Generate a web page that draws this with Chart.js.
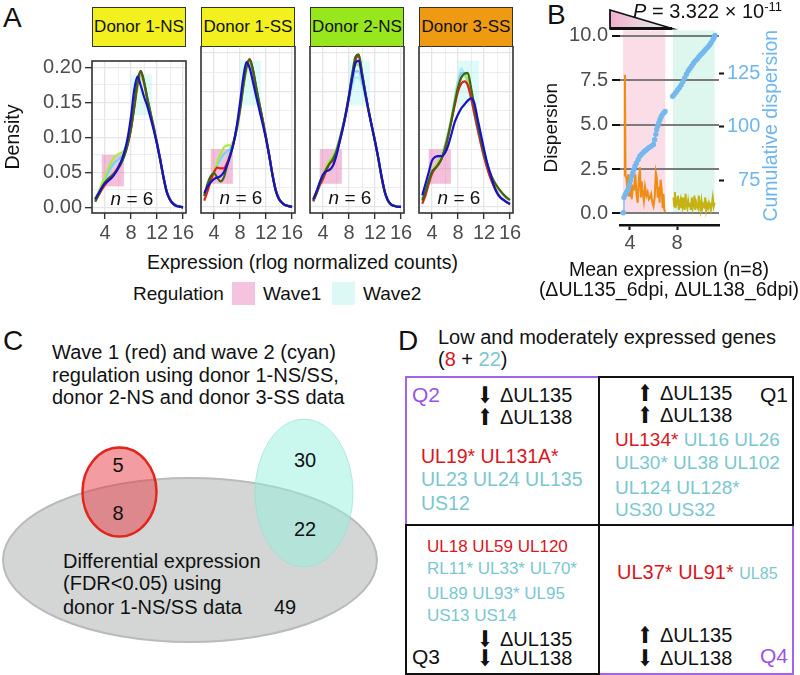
<!DOCTYPE html>
<html>
<head>
<meta charset="utf-8">
<title>Wave 1 / wave 2 regulation</title>
<script src="https://cdn.jsdelivr.net/npm/chart.js"></script>
<style>
  body { margin: 0; background: #fff; }
  #fig { position: relative; width: 800px; height: 675px; overflow: hidden;
         font-family: "Liberation Sans", Arial, sans-serif; color: #111; }
  #fig canvas, #fig svg { position: absolute; }
  .t { position: absolute; white-space: nowrap; line-height: 1; }
  .lab { font-size: 28px; }
  .strip { position: absolute; top: 7px; height: 40px; box-sizing: border-box;
           border: 1.6px solid #333; font-size: 17px; line-height: 37px; text-align: center; }
  .sw { position: absolute; width: 23px; height: 23px; }
  .box { position: absolute; box-sizing: border-box; border: 2.5px solid #111; }
  .box.pur { border-color: #A263E8; }
  .r { color: #D9161D; }
  .c { color: #7AC7D1; }
  .q { color: #9C52E2; }
  .ar { position: absolute; width: 20px; text-align: center; line-height: 1;
        font-family: "DejaVu Sans", sans-serif; font-size: 23px; transform: scaleX(0.78); }
</style>
</head>
<body>
<div id="fig">
  <!-- A -->
  <div class="t lab" style="left:3px;top:4px">A</div>
  <div id="strips"></div>
  <canvas id="a0" width="200" height="200" style="left:0;top:46px"></canvas>
  <canvas id="a1" width="118" height="200" style="left:191px;top:46px"></canvas>
  <canvas id="a2" width="118" height="200" style="left:300px;top:46px"></canvas>
  <canvas id="a3" width="118" height="200" style="left:409px;top:46px"></canvas>
  <div class="t" style="left:92px;width:421px;text-align:center;top:253px;font-size:19.5px">Expression (rlog normalized counts)</div>
  <div class="t" style="left:133px;top:283.5px;font-size:19px">Regulation</div>
  <div class="sw" style="left:232px;top:282px;background:#F4C3DD"></div>
  <div class="t" style="left:263px;top:283.5px;font-size:19px">Wave1</div>
  <div class="sw" style="left:332px;top:282px;background:#DCF9F6"></div>
  <div class="t" style="left:363px;top:283.5px;font-size:19px">Wave2</div>

  <!-- B -->
  <div class="t lab" style="left:547px;top:1px">B</div>
  <canvas id="chartB" width="270" height="300" style="left:530px;top:0"></canvas>
  <div class="t" style="left:633px;top:0;font-size:20px"><i>P</i> = 3.322 × 10<sup style="font-size:13px;vertical-align:7px">-11</sup></div>
  <div class="t" style="left:538px;width:262px;text-align:center;top:260px;font-size:19.5px;line-height:19.5px">Mean expression (n=8)<br>(ΔUL135_6dpi, ΔUL138_6dpi)</div>

  <!-- C -->
  <div class="t lab" style="left:3px;top:327px">C</div>
  <div class="t" style="left:52px;top:341px;font-size:20px;line-height:22.5px">Wave 1 (red) and wave 2 (cyan)<br>regulation using donor 1-NS/SS,<br>donor 2-NS and donor 3-SS data</div>
  <svg width="400" height="275" viewBox="0 400 400 275" style="left:0;top:400px">
    <ellipse cx="190" cy="560" rx="187" ry="82" fill="#D3D6D5" stroke="#B8BBBA" stroke-width="2"/>
    <ellipse cx="119.5" cy="492" rx="37" ry="44.5" fill="rgba(232,58,70,0.5)" stroke="#E2261C" stroke-width="2.5"/>
    <ellipse cx="304" cy="493" rx="49" ry="74" fill="rgba(150,240,222,0.5)" stroke="rgba(140,225,210,0.6)" stroke-width="1"/>
    <g font-family='"Liberation Sans", Arial, sans-serif' font-size="20" fill="#111">
      <g text-anchor="middle" dominant-baseline="central" id="vennNums"></g>
      <text x="63" y="561" dominant-baseline="central">Differential expression</text>
      <text x="63" y="583" dominant-baseline="central">(FDR&lt;0.05) using</text>
      <text x="63" y="607" dominant-baseline="central">donor 1-NS/SS data</text>
    </g>
  </svg>

  <!-- D -->
  <div class="t lab" style="left:398px;top:327px">D</div>
  <div class="t" style="left:438px;top:327px;font-size:20px">Low and moderately expressed genes</div>
  <div class="t" style="left:438px;top:349px;font-size:20px">(<span class="r">8</span> + <span class="c">22</span>)</div>
  <div class="box pur" style="left:405px;top:376px;width:195px;height:150px"></div>
  <div class="box pur" style="left:598px;top:524px;width:196px;height:151px"></div>
  <div class="box" style="left:598px;top:376px;width:196px;height:150px"></div>
  <div class="box" style="left:405px;top:524px;width:195px;height:151px"></div>

  <div class="t q" style="left:412px;top:384px;font-size:21px">Q2</div>
  <div class="ar" style="left:475px;top:384px">⬇</div>
  <div class="t" style="left:500px;top:385px;font-size:20px">ΔUL135</div>
  <div class="ar" style="left:475px;top:406px">⬆</div>
  <div class="t" style="left:500px;top:407px;font-size:20px">ΔUL138</div>
  <div class="t r" style="left:421px;top:447px;font-size:19.5px">UL19* UL131A*</div>
  <div class="t c" style="left:421px;top:470px;font-size:19.5px">UL23 UL24 UL135</div>
  <div class="t c" style="left:421px;top:494px;font-size:19.5px">US12</div>

  <div class="ar" style="left:635px;top:382px">⬆</div>
  <div class="t" style="left:660px;top:383px;font-size:20px">ΔUL135</div>
  <div class="t" style="left:760px;top:384px;font-size:21px">Q1</div>
  <div class="ar" style="left:635px;top:404px">⬆</div>
  <div class="t" style="left:660px;top:405px;font-size:20px">ΔUL138</div>
  <div class="t" style="left:615px;top:430px;font-size:19px"><span class="r">UL134*</span> <span class="c">UL16 UL26</span></div>
  <div class="t c" style="left:615px;top:453px;font-size:19px">UL30* UL38 UL102</div>
  <div class="t c" style="left:615px;top:478px;font-size:19px">UL124 UL128*</div>
  <div class="t c" style="left:615px;top:500px;font-size:19px">US30 US32</div>

  <div class="t r" style="left:427px;top:537.5px;font-size:17px">UL18 UL59 UL120</div>
  <div class="t c" style="left:427px;top:559.5px;font-size:17px">RL11* UL33* UL70*</div>
  <div class="t c" style="left:427px;top:584.5px;font-size:17px">UL89 UL93* UL95</div>
  <div class="t c" style="left:427px;top:606.5px;font-size:17px">US13 US14</div>
  <div class="ar" style="left:475px;top:628px">⬇</div>
  <div class="t" style="left:500px;top:629px;font-size:20px">ΔUL135</div>
  <div class="ar" style="left:475px;top:647px">⬇</div>
  <div class="t" style="left:500px;top:648px;font-size:20px">ΔUL138</div>
  <div class="t" style="left:412px;top:645.5px;font-size:21px">Q3</div>

  <div class="t" style="left:617px;top:562px;font-size:20px"><span class="r">UL37* UL91*</span> <span class="c" style="font-size:16px">UL85</span></div>
  <div class="ar" style="left:635px;top:624px">⬆</div>
  <div class="t" style="left:660px;top:625px;font-size:20px">ΔUL135</div>
  <div class="ar" style="left:635px;top:647px">⬇</div>
  <div class="t" style="left:660px;top:648px;font-size:20px">ΔUL138</div>
  <div class="t q" style="left:760px;top:645px;font-size:21px">Q4</div>
</div>

<script>
// ---------- Panel A: density of rlog counts, six samples per donor ----------
const exprGrid = [2.5, 3, 3.5, 4, 4.5, 5, 5.5, 6, 6.5, 7, 7.5, 8, 8.5, 9, 9.5, 10,
                  10.5, 11, 11.5, 12, 12.5, 13, 13.5, 14, 14.5, 15, 15.5, 16];
const exprTicks = [2, 4, 6, 8, 10, 12, 14, 16];
const exprTickLabels = ['', '4', '', '8', '', '12', '', '16'];
const densTicks = [0, 0.025, 0.05, 0.075, 0.1, 0.125, 0.15, 0.175, 0.2];
const densTickLabels = ['0.00', '', '0.05', '', '0.10', '', '0.15', '', '0.20'];
const donors = ['Donor 1-NS', 'Donor 1-SS', 'Donor 2-NS', 'Donor 3-SS'];
const nSamples = [6, 6, 6, 6];
const wave1Box = [3.5, 6.9, 0.03, 0.075];   // x from, x to, density from, density to
const wave2Box = [8.0, 11.2, 0.132, 0.19];

// sample order: blue, dark green, red, light green, sky blue, pale turquoise
const d1nsBlue  = [0.012,0.020,0.028,0.034,0.038,0.042,0.048,0.056,0.066,0.080,0.100,0.130,0.168,0.187,0.174,0.158,0.145,0.128,0.110,0.090,0.068,0.043,0.022,0.011,0.005,0.002,0.001,0.000];
const d1nsDkGrn = [0.008,0.018,0.028,0.036,0.041,0.045,0.049,0.055,0.063,0.074,0.090,0.113,0.145,0.180,0.195,0.180,0.156,0.134,0.113,0.091,0.067,0.042,0.022,0.011,0.005,0.002,0.001,0.000];
const d1nsRed   = [0.010,0.017,0.025,0.032,0.038,0.044,0.050,0.057,0.065,0.075,0.090,0.112,0.142,0.176,0.194,0.178,0.155,0.134,0.114,0.092,0.068,0.043,0.022,0.011,0.005,0.002,0.001,0.000];
const d1nsLtGrn = [0.012,0.022,0.033,0.044,0.055,0.065,0.072,0.076,0.078,0.082,0.094,0.114,0.142,0.170,0.186,0.176,0.155,0.134,0.113,0.091,0.067,0.042,0.022,0.011,0.005,0.002,0.001,0.000];
const d1nsSky   = [0.012,0.021,0.031,0.040,0.050,0.058,0.064,0.068,0.072,0.079,0.094,0.116,0.146,0.176,0.190,0.178,0.157,0.136,0.115,0.093,0.069,0.044,0.023,0.012,0.006,0.003,0.001,0.000];
const d1nsCyan  = [0.011,0.020,0.030,0.039,0.048,0.055,0.061,0.066,0.071,0.079,0.094,0.116,0.146,0.176,0.188,0.178,0.158,0.137,0.116,0.094,0.070,0.045,0.024,0.012,0.006,0.003,0.001,0.000];

const d1ssBlue  = [0.018,0.026,0.032,0.036,0.038,0.040,0.045,0.054,0.066,0.082,0.105,0.135,0.168,0.188,0.180,0.162,0.143,0.125,0.107,0.088,0.066,0.041,0.021,0.010,0.005,0.002,0.001,0.000];
const d1ssDkGrn = [0.014,0.030,0.040,0.044,0.038,0.033,0.038,0.053,0.068,0.083,0.102,0.127,0.157,0.182,0.191,0.178,0.155,0.133,0.112,0.090,0.066,0.041,0.021,0.010,0.005,0.002,0.001,0.000];
const d1ssRed   = [0.008,0.020,0.034,0.045,0.051,0.050,0.050,0.057,0.068,0.083,0.103,0.128,0.158,0.183,0.192,0.177,0.153,0.132,0.112,0.090,0.067,0.042,0.022,0.011,0.005,0.002,0.001,0.000];
const d1ssLtGrn = [0.015,0.025,0.035,0.046,0.058,0.069,0.077,0.080,0.080,0.086,0.100,0.124,0.154,0.178,0.188,0.176,0.154,0.133,0.112,0.090,0.066,0.041,0.021,0.010,0.005,0.002,0.001,0.000];
const d1ssSky   = [0.016,0.026,0.036,0.045,0.054,0.062,0.068,0.072,0.076,0.084,0.100,0.125,0.156,0.180,0.187,0.176,0.155,0.134,0.113,0.091,0.067,0.042,0.022,0.011,0.005,0.002,0.001,0.000];
const d1ssCyan  = [0.015,0.025,0.035,0.044,0.052,0.060,0.066,0.071,0.075,0.083,0.099,0.124,0.155,0.178,0.184,0.175,0.155,0.134,0.113,0.091,0.068,0.043,0.022,0.011,0.005,0.002,0.001,0.000];

const d2nsBlue  = [0.010,0.020,0.032,0.042,0.046,0.048,0.053,0.065,0.082,0.100,0.120,0.143,0.168,0.187,0.190,0.170,0.147,0.125,0.105,0.085,0.064,0.040,0.020,0.008,0.003,0.001,0.000,0.000];
const d2nsDkGrn = [0.008,0.018,0.030,0.040,0.049,0.056,0.062,0.071,0.085,0.102,0.122,0.146,0.173,0.195,0.198,0.174,0.149,0.126,0.105,0.085,0.063,0.039,0.019,0.008,0.003,0.001,0.000,0.000];
const d2nsRed   = [0.007,0.017,0.028,0.036,0.047,0.056,0.060,0.068,0.083,0.100,0.120,0.143,0.170,0.191,0.196,0.174,0.149,0.126,0.105,0.085,0.063,0.039,0.019,0.008,0.003,0.001,0.000,0.000];
const d2nsLtGrn = [0.009,0.019,0.031,0.042,0.052,0.060,0.066,0.073,0.086,0.102,0.121,0.144,0.168,0.184,0.185,0.168,0.146,0.125,0.105,0.085,0.063,0.039,0.019,0.008,0.003,0.001,0.000,0.000];
const d2nsSky   = [0.009,0.019,0.030,0.041,0.051,0.059,0.066,0.074,0.087,0.103,0.121,0.142,0.163,0.176,0.176,0.163,0.145,0.125,0.105,0.086,0.064,0.040,0.020,0.009,0.003,0.001,0.000,0.000];
const d2nsCyan  = [0.009,0.019,0.030,0.041,0.051,0.059,0.066,0.074,0.087,0.103,0.120,0.139,0.157,0.168,0.168,0.158,0.142,0.124,0.105,0.086,0.064,0.040,0.020,0.009,0.003,0.001,0.000,0.000];

const d3ssBlue  = [0.015,0.030,0.045,0.060,0.065,0.066,0.066,0.070,0.080,0.095,0.110,0.120,0.128,0.133,0.138,0.141,0.135,0.115,0.095,0.075,0.057,0.042,0.028,0.018,0.012,0.009,0.006,0.004];
const d3ssDkGrn = [0.008,0.020,0.034,0.046,0.050,0.055,0.063,0.076,0.093,0.113,0.135,0.155,0.168,0.173,0.174,0.155,0.131,0.108,0.088,0.070,0.055,0.043,0.034,0.027,0.021,0.016,0.012,0.009];
const d3ssRed   = [0.004,0.015,0.030,0.043,0.050,0.056,0.063,0.075,0.092,0.112,0.132,0.150,0.160,0.163,0.158,0.142,0.122,0.102,0.083,0.065,0.050,0.037,0.027,0.019,0.013,0.009,0.006,0.003];
const d3ssLtGrn = [0.010,0.022,0.035,0.046,0.053,0.059,0.066,0.078,0.095,0.115,0.137,0.157,0.168,0.171,0.166,0.148,0.126,0.105,0.086,0.068,0.053,0.041,0.032,0.026,0.021,0.016,0.012,0.009];
const d3ssSky   = [0.011,0.021,0.032,0.043,0.052,0.060,0.068,0.080,0.096,0.115,0.138,0.160,0.174,0.174,0.163,0.142,0.121,0.101,0.083,0.066,0.052,0.040,0.031,0.025,0.020,0.015,0.011,0.008];
const d3ssCyan  = [0.010,0.020,0.031,0.042,0.052,0.060,0.068,0.080,0.097,0.117,0.141,0.166,0.180,0.172,0.160,0.140,0.120,0.100,0.082,0.065,0.051,0.039,0.031,0.025,0.020,0.015,0.011,0.008];

// ---------- Panel B: dispersion vs mean expression ----------
const wave1Span = [3.4, 7.0];
const wave2Span = [7.66, 11.2];
const wave1X    = [3.55,3.57,3.62,3.70,3.78,3.85,3.92,4.00,4.08,4.15,4.25,4.35,4.45,4.55,4.65,4.75,4.85,4.92,5.00,5.08,5.18,5.28,5.40,5.50,5.60,5.70,5.80,5.90,6.00,6.10,6.20,6.28,6.35,6.45,6.52,6.60,6.70,6.78,6.85,6.92,7.00];
const wave1Disp = [2.1,7.8,2.1,2.0,1.3,2.2,1.0,1.6,1.9,0.8,1.5,1.4,2.2,1.1,0.6,1.9,2.6,0.9,1.8,1.2,0.7,1.5,1.0,1.2,0.8,0.9,1.1,0.6,0.4,0.9,2.3,2.0,0.9,1.5,0.6,1.9,1.3,0.3,1.1,0.2,0.1];
const wave2X    = [7.70,7.76,7.82,7.88,7.95,8.02,8.08,8.15,8.22,8.30,8.36,8.43,8.50,8.58,8.65,8.72,8.80,8.88,8.95,9.02,9.10,9.18,9.25,9.33,9.40,9.48,9.55,9.63,9.70,9.78,9.85,9.93,10.00,10.08,10.16,10.24,10.32,10.40,10.48,10.56,10.64,10.72,10.80,10.88,10.96,11.04,11.12,11.20];
const wave2Disp = [0.9,0.4,1.2,0.3,0.7,0.5,1.0,0.2,0.6,0.8,0.3,0.9,0.4,0.6,0.2,1.1,0.5,0.3,0.7,0.4,0.6,0.2,0.9,0.3,0.5,1.0,0.2,0.6,0.4,0.3,1.0,0.5,0.2,0.7,0.3,0.5,0.4,0.9,0.2,0.5,0.3,0.6,0.4,0.2,0.5,0.9,0.4,0.6];
const cumWave1X   = [3.43,3.49,3.60,3.70,3.78,3.86,3.95,4.05,4.14,4.24,4.33,4.43,4.55,4.70,4.85,5.00,5.15,5.30,5.42,5.60,5.80,5.99,6.10,6.20,6.27,6.35,6.45,6.55,6.65,6.75,6.88,6.98];
const cumWave1Val = [60,67.1,68.5,69.5,70.3,71,73,75,77,78.6,80.2,81.8,83.2,84.8,86.4,87.3,88.2,88.9,89.5,90.3,91,91.8,94,96.5,98.8,100.3,101.8,103.4,104.7,105.7,106.6,107.2];
const cumWave2X   = [7.63,7.75,7.90,8.05,8.20,8.35,8.50,8.65,8.80,8.95,9.10,9.25,9.40,9.55,9.70,9.85,10.00,10.15,10.30,10.45,10.60,10.75,10.90,11.05,11.15,11.23];
const cumWave2Val = [114.2,115,116,117.2,118.2,119.5,121,122.8,124.5,126,127.2,128.3,129.6,130.6,131.5,132.5,133.5,134.3,135.2,136.2,137,138,139.2,140.6,141.6,142.5];
const meanTicks = [4, 8];
const dispTicks = [0, 2.5, 5, 7.5, 10];
const dispTickLabels = ['0.0', '2.5', '5.0', '7.5', '10.0'];
const cumTicks = [75, 100, 125];
const cumTickLabels = ['  75', '100', '125'];   // leading spaces right-align the two-digit label

// ---------- Panel C: Venn counts ----------
const vennCounts = [5, 8, 30, 22, 49];

const FONT = '"Liberation Sans", Arial, sans-serif';
Chart.defaults.font.family = FONT;
Chart.defaults.color = '#4D4D4D';

const sampleColors = ['#1414C4', '#3E6414', '#E4201C', '#A8EC40', '#88C8F6', '#A9EEF0'];
const stripColors = ['#F2F01E', '#F2F01E', '#97E61E', '#EE9A12'];
const panelLeft = [92, 201, 310, 419];
const cumColor = '#74B8EE';

// strips
const stripHost = document.getElementById('strips');
donors.forEach((d, k) => {
  const s = document.createElement('div');
  s.className = 'strip';
  s.style.left = panelLeft[k] + 'px';
  s.style.width = '94px';
  s.style.background = stripColors[k];
  s.textContent = d;
  stripHost.appendChild(s);
});

// venn numbers
const vennPos = [[118, 465], [118, 513], [305, 460], [305, 529], [285, 607]];
const vg = document.getElementById('vennNums');
vennCounts.forEach((n, i) => {
  const t = document.createElementNS('http://www.w3.org/2000/svg', 'text');
  t.setAttribute('x', vennPos[i][0]);
  t.setAttribute('y', vennPos[i][1]);
  t.textContent = n;
  vg.appendChild(t);
});

// wave boxes, n label and panel border for each facet
const facetDecor = {
  id: 'facetDecor',
  beforeDatasetsDraw(chart) {
    const { ctx, chartArea: a, scales: { x, y } } = chart;
    ctx.save();
    ctx.beginPath();
    ctx.rect(a.left, a.top, a.right - a.left, a.bottom - a.top);
    ctx.clip();
    [[wave1Box, 'rgba(230,112,172,0.45)'], [wave2Box, 'rgba(160,240,238,0.35)']].forEach(([b, col]) => {
      const x0 = x.getPixelForValue(b[0]), x1 = x.getPixelForValue(b[1]);
      const y0 = y.getPixelForValue(b[3]), y1 = y.getPixelForValue(b[2]);
      ctx.fillStyle = col;
      ctx.fillRect(x0, y0, x1 - x0, y1 - y0);
    });
    ctx.restore();
  },
  afterDatasetsDraw(chart, args, opts) {
    const { ctx, chartArea: a, scales: { x, y } } = chart;
    const cx = x.getPixelForValue(8.15), cy = y.getPixelForValue(0.0104);
    ctx.save();
    ctx.fillStyle = '#111';
    ctx.textBaseline = 'middle';
    ctx.textAlign = 'left';
    ctx.font = 'italic 19px ' + FONT;
    const w1 = ctx.measureText('n').width;
    ctx.font = '19px ' + FONT;
    const rest = ' = ' + opts.n;
    const w2 = ctx.measureText(rest).width;
    const sx = cx - (w1 + w2) / 2;
    ctx.font = 'italic 19px ' + FONT;
    ctx.fillText('n', sx, cy);
    ctx.font = '19px ' + FONT;
    ctx.fillText(rest, sx + w1, cy);
    ctx.strokeStyle = '#333';
    ctx.lineWidth = 1.6;
    ctx.strokeRect(a.left, a.top, a.right - a.left, a.bottom - a.top);
    ctx.restore();
  }
};

function facetChart(canvasId, series, k) {
  const first = k === 0;
  return new Chart(document.getElementById(canvasId), {
    type: 'line',
    data: {
      datasets: series.map((ys, i) => ({
        data: ys.map((v, j) => ({ x: exprGrid[j], y: v })),
        borderColor: sampleColors[i],
        borderWidth: 2.2,
        pointRadius: 0,
        cubicInterpolationMode: 'monotone'
      }))
    },
    options: {
      responsive: false,
      animation: false,
      events: [],
      layout: { autoPadding: false, padding: { left: first ? 0 : 10, right: 14, top: 0, bottom: 0 } },
      plugins: { legend: { display: false }, tooltip: { enabled: false }, facetDecor: { n: nSamples[k] } },
      scales: {
        x: {
          type: 'linear', bounds: 'data', min: 2, max: 16.46,
          afterBuildTicks: s => { s.ticks = exprTicks.map(v => ({ value: v })); },
          afterFit: s => { s.height = 33; },
          border: { display: false },
          grid: {
            color: '#E6E6E6',
            lineWidth: c => exprTickLabels[c.index] ? 1.3 : 0.7,
            tickColor: c => exprTickLabels[c.index] ? '#333' : 'rgba(0,0,0,0)',
            tickLength: 6, tickWidth: 1.4
          },
          ticks: { autoSkip: false, maxRotation: 0, padding: 2, font: { size: 20 },
                   callback: (v, i) => exprTickLabels[i] }
        },
        y: {
          type: 'linear', bounds: 'data', min: -0.008, max: 0.209,
          afterBuildTicks: s => { s.ticks = densTicks.map(v => ({ value: v })); },
          afterFit: s => { s.width = first ? 92 : 0; },
          border: { display: false },
          grid: {
            color: '#E6E6E6',
            lineWidth: c => densTickLabels[c.index] ? 1.3 : 0.7,
            drawTicks: first,
            tickColor: c => densTickLabels[c.index] ? '#333' : 'rgba(0,0,0,0)',
            tickLength: 7, tickWidth: 1.4
          },
          ticks: { display: first, autoSkip: false, padding: 3, font: { size: 20 },
                   callback: (v, i) => densTickLabels[i] },
          title: { display: first, text: 'Density', color: '#111', font: { size: 19.5 },
                   padding: { top: 2, bottom: 0 } }
        }
      }
    },
    plugins: [facetDecor]
  });
}

facetChart('a0', [d1nsBlue, d1nsDkGrn, d1nsRed, d1nsLtGrn, d1nsSky, d1nsCyan], 0);
facetChart('a1', [d1ssBlue, d1ssDkGrn, d1ssRed, d1ssLtGrn, d1ssSky, d1ssCyan], 1);
facetChart('a2', [d2nsBlue, d2nsDkGrn, d2nsRed, d2nsLtGrn, d2nsSky, d2nsCyan], 2);
facetChart('a3', [d3ssBlue, d3ssDkGrn, d3ssRed, d3ssLtGrn, d3ssSky, d3ssCyan], 3);

// ---------- Panel B chart ----------
const pts = (xs, ys) => xs.map((x, i) => ({ x, y: ys[i] }));

const dispDecor = {
  id: 'dispDecor',
  beforeDraw(chart) {
    const { ctx, chartArea: a, scales: { x, y } } = chart;
    const bot = y.getPixelForValue(0);
    ctx.save();
    [[wave1Span, '#FADDE7'], [wave2Span, '#DDF7EF']].forEach(([s, col]) => {
      const x0 = x.getPixelForValue(s[0]), x1 = x.getPixelForValue(s[1]);
      ctx.fillStyle = col;
      ctx.fillRect(x0, a.top, x1 - x0, bot - a.top);
    });
    ctx.restore();
  },
  afterDraw(chart) {
    const { ctx, chartArea: a } = chart;
    // wedge above the panel: pink (wave 1) fading to cyan (wave 2)
    const l = a.left - 10, r = a.left + 52, t = 10, b = 28.5;
    const g = ctx.createLinearGradient(l, 0, r, 0);
    g.addColorStop(0, '#F2AFCB');
    g.addColorStop(1, '#DFF7F1');
    ctx.save();
    ctx.beginPath();
    ctx.moveTo(l, t); ctx.lineTo(r, b); ctx.lineTo(l, b); ctx.closePath();
    ctx.fillStyle = g;
    ctx.fill();
    ctx.strokeStyle = '#111';
    ctx.lineWidth = 1.8;
    ctx.stroke();
    ctx.lineWidth = 3;
    ctx.beginPath(); ctx.moveTo(l, b); ctx.lineTo(r, b); ctx.stroke();
    // right axis title, reading bottom to top
    ctx.translate(a.right + 53, (a.top + a.bottom) / 2 - 2);
    ctx.rotate(-Math.PI / 2);
    ctx.fillStyle = '#6FB6EE';
    ctx.font = '19.5px ' + FONT;
    ctx.textAlign = 'center';
    ctx.textBaseline = 'middle';
    ctx.fillText('Cumulative dispersion', 0, 0);
    ctx.restore();
  }
};

new Chart(document.getElementById('chartB'), {
  type: 'line',
  data: {
    datasets: [
      { data: pts(cumWave1X, cumWave1Val), yAxisID: 'y2', borderColor: cumColor, backgroundColor: cumColor,
        borderWidth: 1.2, pointRadius: 2.7, pointBorderWidth: 0 },
      { data: pts(cumWave2X, cumWave2Val), yAxisID: 'y2', borderColor: cumColor, backgroundColor: cumColor,
        borderWidth: 1.2, pointRadius: 2.7, pointBorderWidth: 0 },
      { data: pts(wave1X, wave1Disp), yAxisID: 'y', borderColor: '#EE8C14', borderWidth: 2, pointRadius: 0 },
      { data: pts(wave2X, wave2Disp), yAxisID: 'y', borderColor: '#C6B212', borderWidth: 2, pointRadius: 0 }
    ]
  },
  options: {
    responsive: false,
    animation: false,
    events: [],
    layout: { autoPadding: false, padding: { top: 30.4, left: 0, right: 0, bottom: 0 } },
    plugins: { legend: { display: false }, tooltip: { enabled: false } },
    scales: {
      x: {
        type: 'linear', bounds: 'data', min: 3.15, max: 11.57,
        afterBuildTicks: s => { s.ticks = meanTicks.map(v => ({ value: v })); },
        afterFit: s => { s.height = 75; },
        border: { display: true, color: '#111', width: 2.5 },
        grid: { drawOnChartArea: false, drawTicks: true, tickLength: 5, tickColor: '#111', tickWidth: 2 },
        ticks: { padding: 1, font: { size: 20 }, maxRotation: 0 }
      },
      y: {
        type: 'linear', position: 'left', bounds: 'data', min: -0.65, max: 10.3,
        afterBuildTicks: s => { s.ticks = dispTicks.map(v => ({ value: v })); },
        afterFit: s => { s.width = 90; },
        border: { display: false },
        grid: { color: '#7B7B7B', lineWidth: 2, tickColor: '#111', tickLength: 8, tickWidth: 2 },
        ticks: { padding: 4, font: { size: 20 }, callback: (v, i) => dispTickLabels[i] },
        title: { display: true, text: 'Dispersion', color: '#111', font: { size: 19 },
                 padding: { top: 10.6, bottom: 0 } }
      },
      y2: {
        type: 'linear', position: 'right', bounds: 'data', min: 54.3, max: 144.9,
        afterBuildTicks: s => { s.ticks = cumTicks.map(v => ({ value: v })); },
        afterFit: s => { s.width = 81; },
        border: { display: false },
        grid: { drawOnChartArea: false, drawTicks: true, tickLength: 5, tickColor: '#111', tickWidth: 2 },
        ticks: { padding: 3, crossAlign: 'near', color: '#6FB6EE', font: { size: 20 },
                 callback: (v, i) => cumTickLabels[i] }
      }
    }
  },
  plugins: [dispDecor]
});
</script>
</body>
</html>
